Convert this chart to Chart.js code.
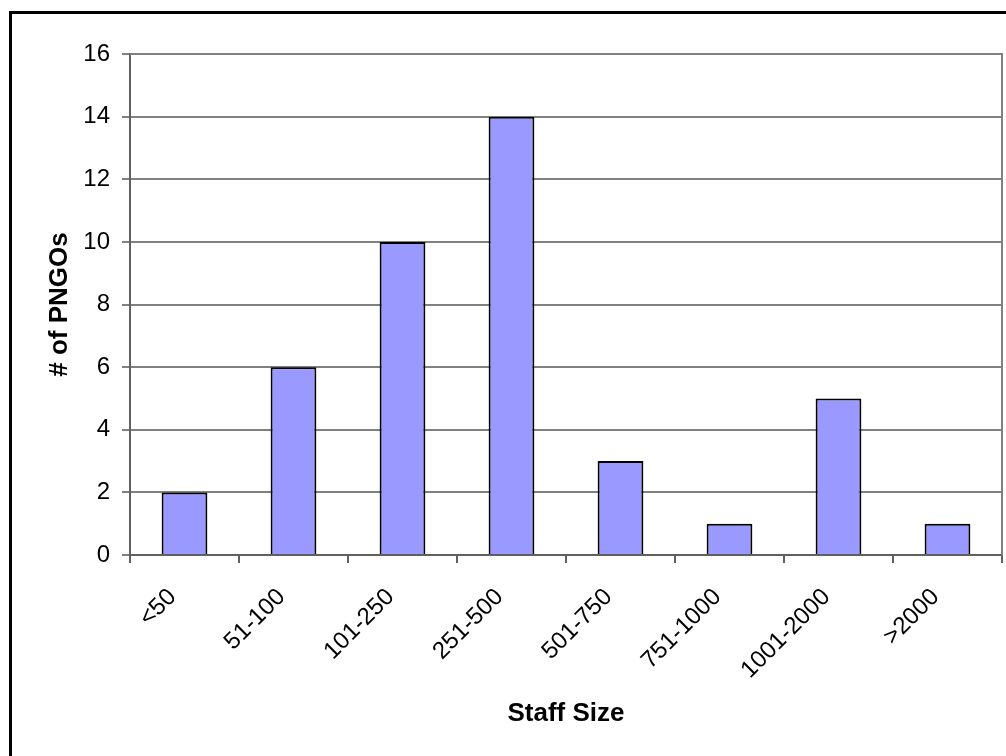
<!DOCTYPE html>
<html>
<head>
<meta charset="utf-8">
<script src="https://cdn.jsdelivr.net/npm/chart.js@4/dist/chart.umd.min.js"></script>
<style>
  body { margin: 0; overflow: hidden; background: #fff; }
  #wrap { position: relative; width: 1006px; height: 756px; }
  .frame { position: absolute; left: 9px; top: 11px; width: 1100px; height: 900px; border: 3px solid #000; box-sizing: border-box; }
  canvas { position: absolute; left: 0; top: 0; }
</style>
</head>
<body>
<div id="wrap">
  <div class="frame"></div>
  <canvas id="myChart" width="1006" height="756"></canvas>
</div>
<script>
// data
var staffSizes = ['<50', '51-100', '101-250', '251-500', '501-750', '751-1000', '1001-2000', '>2000'];
var pngoCounts = [2, 6, 10, 14, 3, 1, 5, 1];
var yMin = 0;
var yMax = 16;
var yStep = 2;

var fontFam = "'Liberation Sans', Arial, sans-serif";

// gray border round the plot area
var plotBorder = {
  id: 'plotBorder',
  beforeDatasetsDraw: function (chart) {
    var a = chart.chartArea;
    var c = chart.ctx;
    c.save();
    c.strokeStyle = '#808080';
    c.lineWidth = 2;
    c.beginPath();
    c.moveTo(a.left, a.top);
    c.lineTo(a.right, a.top);
    c.lineTo(a.right, a.bottom);
    c.stroke();
    c.restore();
  }
};

const ctx = document.getElementById('myChart');
var cfg = {
  type: 'bar',
  data: {
    labels: staffSizes,
    datasets: [{
      label: '# of PNGOs',
      data: pngoCounts,
      backgroundColor: '#9999ff',
      borderColor: '#000000',
      borderWidth: 2,
      categoryPercentage: 1,
      barPercentage: 0.42
    }]
  },
  options: {
    responsive: false,
    animation: false,
    devicePixelRatio: 1,
    layout: { padding: { left: 0, top: 54, right: 4, bottom: 0 } },
    plugins: {
      legend: { display: false },
      tooltip: { enabled: false }
    },
    scales: {
      x: {
        afterFit: function (s) { s.height = 201; },
        grid: {
          display: true,
          drawOnChartArea: false,
          drawTicks: true,
          tickLength: 8,
          color: '#606060',
          lineWidth: 2
        },
        border: { color: '#606060', width: 2 },
        ticks: {
          color: '#000',
          font: { family: fontFam, size: 24 },
          minRotation: 45,
          maxRotation: 45,
          padding: 20,
          labelOffset: -12,
          autoSkip: false
        },
        title: {
          display: true,
          text: 'Staff Size',
          color: '#000',
          font: { family: fontFam, size: 26, weight: 'bold' },
          padding: { top: 0, bottom: 27 }
        }
      },
      y: {
        min: yMin,
        max: yMax,
        afterFit: function (s) { s.width = 130; },
        grid: {
          color: '#808080',
          lineWidth: 2,
          tickLength: 8
        },
        border: { color: '#606060', width: 2 },
        ticks: {
          stepSize: yStep,
          color: '#000',
          font: { family: fontFam, size: 24 },
          padding: 12
        },
        title: {
          display: true,
          text: '# of PNGOs',
          color: '#000',
          font: { family: fontFam, size: 26, weight: 'bold' },
          padding: { top: 44, bottom: 0 }
        }
      }
    }
  },
  plugins: [plotBorder]
};

myChart1 = new Chart(ctx, cfg);
</script>
</body>
</html>
